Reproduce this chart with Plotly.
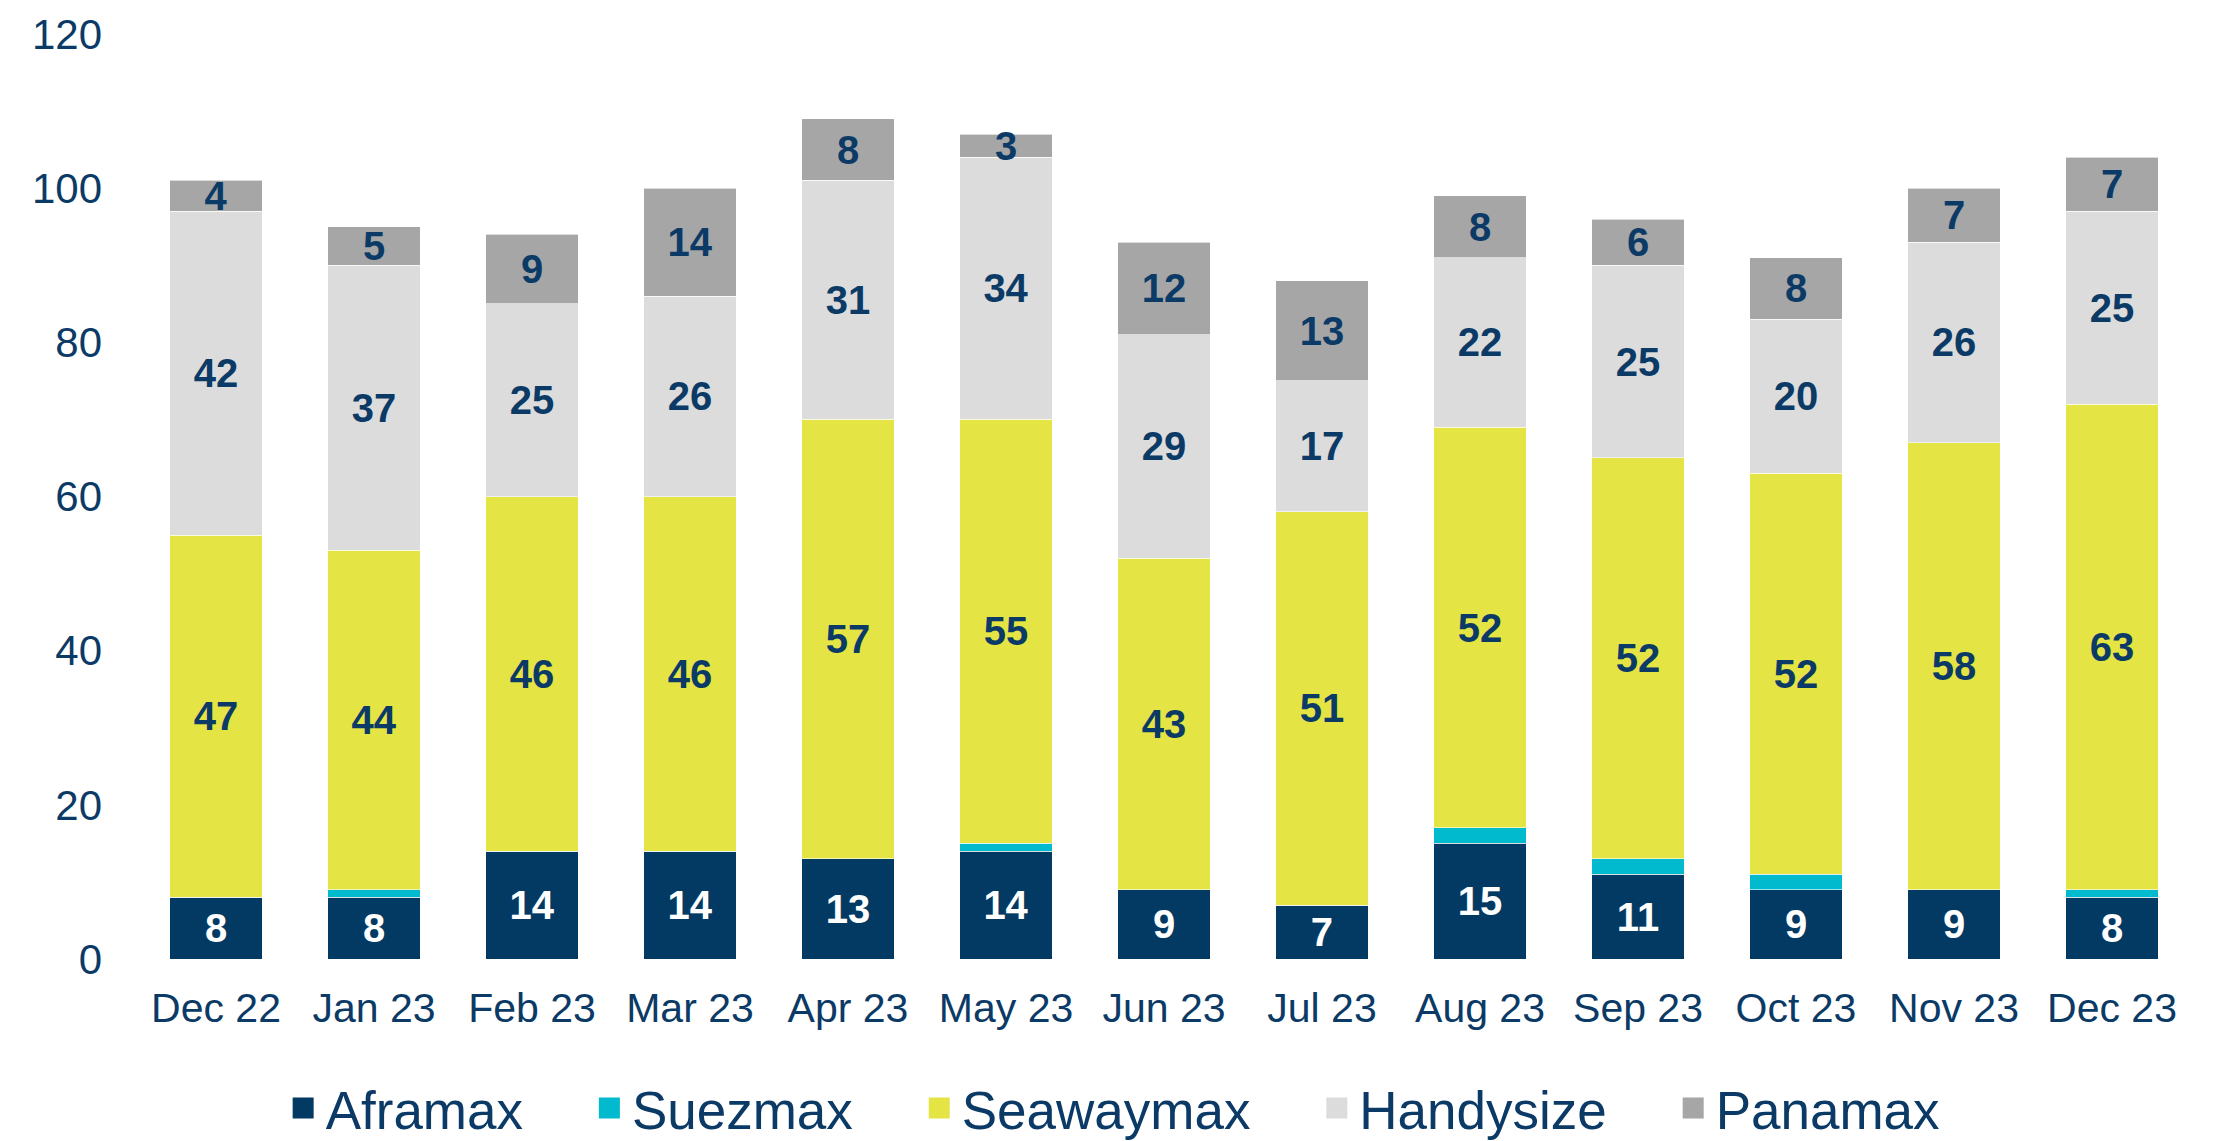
import plotly.graph_objects as go

months = ["Dec 22", "Jan 23", "Feb 23", "Mar 23", "Apr 23", "May 23", "Jun 23",
          "Jul 23", "Aug 23", "Sep 23", "Oct 23", "Nov 23", "Dec 23"]
aframax = [8, 8, 14, 14, 13, 14, 9, 7, 15, 11, 9, 9, 8]
suezmax = [0, 1, 0, 0, 0, 1, 0, 0, 2, 2, 2, 0, 1]
seawaymax = [47, 44, 46, 46, 57, 55, 43, 51, 52, 52, 52, 58, 63]
handysize = [42, 37, 25, 26, 31, 34, 29, 17, 22, 25, 20, 26, 25]
panamax = [4, 5, 9, 14, 8, 3, 12, 13, 8, 6, 8, 7, 7]
y_ticks = [0, 20, 40, 60, 80, 100, 120]

NAVY = "#033a63"
TXT = "#0b3a66"
FONT = "Liberation Sans, Arial, sans-serif"

series = [
    ("Aframax", aframax, NAVY, "white", True),
    ("Suezmax", suezmax, "#02bacd", TXT, False),
    ("Seawaymax", seawaymax, "#e4e444", TXT, True),
    ("Handysize", handysize, "#dcdcdc", TXT, True),
    ("Panamax", panamax, "#a6a6a6", TXT, True),
]

fig = go.Figure()
for i, (name, vals, color, tcolor, show_text) in enumerate(series):
    fig.add_trace(go.Bar(
        x=months, y=vals, name=name,
        marker=dict(color=color, line=dict(color="rgba(255,255,255,0.6)", width=1)),
        text=[str(v) if (show_text and v) else "" for v in vals],
        textposition="inside", insidetextanchor="middle",
        textangle=0,
        textfont=dict(family=FONT, size=40, color=tcolor, weight="bold"),
        showlegend=False, hoverinfo="skip",
    ))
    label = name + ("\u00a0" * 4 if i < len(series) - 1 else "")
    fig.add_trace(go.Scatter(
        x=[None], y=[None], mode="markers", name=label,
        marker=dict(symbol="square", size=16, color=color,
                    line=dict(color=color, width=5)),
        showlegend=True,
    ))

fig.update_layout(
    barmode="stack",
    bargap=0.415,
    width=2231, height=1141,
    margin=dict(l=129, r=48, t=26, b=190, autoexpand=False),
    paper_bgcolor="white", plot_bgcolor="white",
    font=dict(family=FONT, color=TXT),
    uniformtext=dict(minsize=40, mode="show"),
    legend=dict(orientation="h", x=0.475, xanchor="center", y=-0.161, yanchor="middle",
                font=dict(size=53, color=TXT, family=FONT),
                itemwidth=35, tracegroupgap=0, traceorder="normal"),
    xaxis=dict(showgrid=False, showline=False, ticks="",
               tickfont=dict(size=41, color=TXT), ticklabelstandoff=21),
    yaxis=dict(range=[0, 120], tickvals=y_ticks, showgrid=False, zeroline=False,
               showline=False, ticks="", tickfont=dict(size=42, color=TXT),
               ticklabelstandoff=34),
)

fig.write_html("out.html")
